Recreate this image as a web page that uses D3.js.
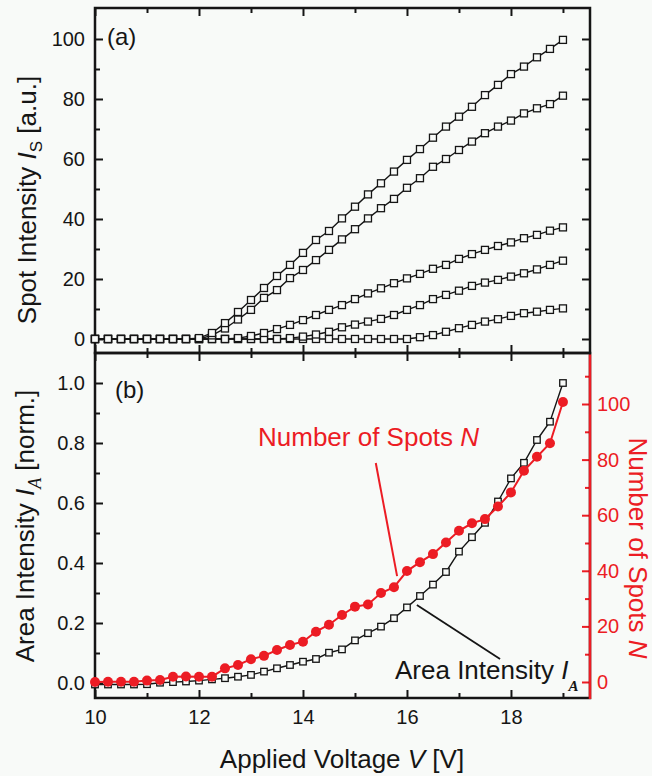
<!DOCTYPE html>
<html>
<head>
<meta charset="utf-8">
<script src="https://cdn.jsdelivr.net/npm/d3@7"></script>
<style>
body { margin: 0; background: #f8faf8; }
svg { display: block; font-family: "Liberation Sans", Arial, sans-serif; }
.tick text { font-family: "Liberation Sans", Arial, sans-serif; }
</style>
</head>
<body>
<script>
// Applied voltage (V), same for every series
var volts = [10, 10.25, 10.5, 10.75, 11, 11.25, 11.5, 11.75, 12, 12.25, 12.5, 12.75,
             13, 13.25, 13.5, 13.75, 14, 14.25, 14.5, 14.75, 15, 15.25, 15.5, 15.75,
             16, 16.25, 16.5, 16.75, 17, 17.25, 17.5, 17.75, 18, 18.25, 18.5, 18.75, 19];

// (a) spot intensities, five spots
var spot1 = [0, 0, 0, 0, 0, 0, 0, 0, 0.3, 2, 5.3, 9, 13, 17, 21, 24.7, 28.7, 33, 36, 40.2,
             44.1, 48.2, 51.9, 55.8, 59.7, 63.3, 67.1, 70.8, 74.1, 77.4, 81.3, 84.7, 88.3, 90.8, 93.9, 96.7, 99.7];
var spot2 = [0, 0, 0, 0, 0, 0, 0, 0, 0, 1.2, 3.5, 6.5, 9.7, 13.7, 16.3, 20.3, 23, 26.3, 29.7, 33.2,
             36.6, 40.2, 43.6, 46.7, 50.4, 53.6, 57.4, 60, 63, 65.8, 68.6, 70.8, 72.8, 75.2, 76.9, 78.3, 81.1];
var spot3 = [0, 0, 0, 0, 0, 0, 0, 0, 0, 0, 0, 0.3, 1, 2, 3.3, 4.7, 6.3, 8, 9.7, 11.3,
             13.3, 15.2, 16.9, 18.6, 20.2, 21.7, 23.4, 24.7, 26.7, 28.3, 29.7, 31, 32.2, 33.6, 34.7, 36.1, 37.2];
var spot4 = [0, 0, 0, 0, 0, 0, 0, 0, 0, 0, 0, 0, 0, 0, 0, 0.3, 0.8, 1.5, 2.4, 3.9,
             4.8, 5.8, 6.7, 8, 9.7, 11.3, 13.3, 14.7, 16.1, 17.7, 18.8, 19.7, 20.8, 21.9, 23.2, 24.7, 26.1];
var spot5 = [0, 0, 0, 0, 0, 0, 0, 0, 0, 0, 0, 0, 0, 0, 0, 0, 0, 0, 0, 0,
             0, 0, 0, 0, 0, 0.6, 1.3, 2.4, 3.6, 4.7, 5.8, 6.6, 7.7, 8.6, 9.1, 9.7, 10.2];
var spots = [spot1, spot2, spot3, spot4, spot5];

// (b) area intensity (normalised) and number of spots
var areaInt = [-0.005, -0.005, -0.005, -0.005, -0.004, 0.001, 0.003, 0.005, 0.008, 0.012, 0.016, 0.021,
               0.027, 0.038, 0.049, 0.06, 0.071, 0.08, 0.101, 0.112, 0.142, 0.166, 0.188, 0.216,
               0.252, 0.29, 0.328, 0.37, 0.438, 0.486, 0.534, 0.605, 0.682, 0.734, 0.81, 0.871, 1.0];
var nSpots = [0, 0.1, 0.1, 0.1, 0.5, 0.7, 1.9, 2.0, 1.9, 1.9, 4.9, 6.1,
              8.2, 9.4, 11.5, 13.3, 14.5, 18.1, 20.6, 24.1, 27.1, 27.9, 32, 34.1,
              39.9, 43.1, 46, 50.2, 54.4, 57.1, 58.6, 63.1, 68.2, 76, 81, 85.9, 100.7];

// tick values
var xMajor = [10, 12, 14, 16, 18], xMinor = [11, 13, 15, 17, 19];
var sMajor = [0, 20, 40, 60, 80, 100], sMinor = [10, 30, 50, 70, 90];
var aMajor = [0, 0.2, 0.4, 0.6, 0.8, 1.0], aMinor = [0.1, 0.3, 0.5, 0.7, 0.9];
var nMajor = [0, 20, 40, 60, 80, 100], nMinor = [10, 30, 50, 70, 90, 110];

var red = "#ec1c24", ink = "#151515", bg = "#f8faf8";

var left = 95, right = 590, top1 = 8, mid = 353, bottom2 = 698;

var x = d3.scaleLinear().domain([10, 19.52]).range([left, right]);
var yS = d3.scaleLinear().domain([-4.67, 110.33]).range([mid, top1]);
var yA = d3.scaleLinear().domain([-0.05, 1.1]).range([bottom2, mid]);
var yN = d3.scaleLinear().domain([-5.76, 118.35]).range([bottom2, mid]);

var svg = d3.select("body").append("svg")
    .attr("width", 652)
    .attr("height", 776);

// inward ticks, major with labels and minor without
function drawAxis(axisFn, scale, tx, ty, major, minor, fmt, pad, color) {
	var g = svg.append("g").attr("transform", "translate(" + tx + "," + ty + ")");
	g.append("g").call(axisFn(scale).tickValues(minor).tickSize(-5).tickFormat(""));
	var m = g.append("g").call(axisFn(scale).tickValues(major).tickSize(-8).tickPadding(pad)
		.tickFormat(fmt ? fmt : ""));
	g.selectAll(".domain").remove();
	g.selectAll("line").attr("stroke", color).attr("stroke-width", 2);
	m.selectAll("text").attr("fill", color).style("font-size", "20px");
	return g;
}

// panel (a) axes
drawAxis(d3.axisLeft, yS, left, 0, sMajor, sMinor, d3.format("d"), 10, ink);
drawAxis(d3.axisRight, yS, right, 0, sMajor, sMinor, null, 0, ink);
drawAxis(d3.axisTop, x, 0, top1, xMajor, xMinor, null, 0, ink);
drawAxis(d3.axisBottom, x, 0, mid, xMajor, xMinor, null, 0, ink);

// panel (b) axes
drawAxis(d3.axisLeft, yA, left, 0, aMajor, aMinor, d3.format(".1f"), 10, ink);
drawAxis(d3.axisTop, x, 0, mid, xMajor, xMinor, null, 0, ink);
drawAxis(d3.axisBottom, x, 0, bottom2, xMajor, xMinor, d3.format("d"), 12, ink);
drawAxis(d3.axisRight, yN, right, 0, nMajor, nMinor, d3.format("d"), 7, red);

// frames
svg.append("rect").attr("x", left).attr("y", top1).attr("width", right - left).attr("height", mid - top1)
	.attr("fill", "none").attr("stroke", ink).attr("stroke-width", 2.5);
svg.append("rect").attr("x", left).attr("y", mid).attr("width", right - left).attr("height", bottom2 - mid)
	.attr("fill", "none").attr("stroke", ink).attr("stroke-width", 2.5);
svg.append("line").attr("x1", right).attr("x2", right).attr("y1", mid + 1.5).attr("y2", bottom2 + 1)
	.attr("stroke", red).attr("stroke-width", 2.5);

// squares + line helper
function squareSeries(vals, yScale, size) {
	var pts = volts.map(function(v, i) { return [v, vals[i]]; });
	var line = d3.line().x(function(d) { return x(d[0]); }).y(function(d) { return yScale(d[1]); });
	svg.append("path").datum(pts).attr("d", line)
		.attr("fill", "none").attr("stroke", ink).attr("stroke-width", 1.4);
	svg.append("g").selectAll("rect").data(pts).enter().append("rect")
		.attr("x", function(d) { return x(d[0]) - size / 2; })
		.attr("y", function(d) { return yScale(d[1]) - size / 2; })
		.attr("width", size).attr("height", size)
		.attr("fill", bg).attr("stroke", ink).attr("stroke-width", 1.3);
}

for (var s = spots.length - 1; s >= 0; s--) {
	squareSeries(spots[s], yS, 7);
}

squareSeries(areaInt, yA, 6.5);

// number of spots
var nPts = volts.map(function(v, i) { return [v, nSpots[i]]; });
svg.append("path").datum(nPts)
	.attr("d", d3.line().x(function(d) { return x(d[0]); }).y(function(d) { return yN(d[1]); }))
	.attr("fill", "none").attr("stroke", red).attr("stroke-width", 2);
svg.append("g").selectAll("circle").data(nPts).enter().append("circle")
	.attr("cx", function(d) { return x(d[0]); })
	.attr("cy", function(d) { return yN(d[1]); })
	.attr("r", 5).attr("fill", red);

// leader lines (data units)
svg.append("line")
	.attr("x1", x(15.40)).attr("y1", yN(78.8)).attr("x2", x(15.81)).attr("y2", yN(38.1))
	.attr("stroke", red).attr("stroke-width", 2);
svg.append("line")
	.attr("x1", x(16.19)).attr("y1", yA(0.26)).attr("x2", x(17.79)).attr("y2", yA(0.08))
	.attr("stroke", ink).attr("stroke-width", 1.8);

// panel labels
svg.append("text").attr("x", 107).attr("y", 45).style("font-size", "24px").attr("fill", ink).text("(a)");
svg.append("text").attr("x", 115).attr("y", 398).style("font-size", "24px").attr("fill", ink).text("(b)");

// annotations
var t1 = svg.append("text").attr("x", 258).attr("y", 446).style("font-size", "26px").attr("fill", red);
t1.append("tspan").text("Number of Spots ");
t1.append("tspan").style("font-style", "italic").text("N");

var t2 = svg.append("text").attr("x", 395).attr("y", 679).style("font-size", "26px").attr("fill", ink);
t2.append("tspan").text("Area Intensity ");
t2.append("tspan").style("font-style", "italic").text("I");
t2.append("tspan").attr("dy", 12).style("font-size", "15px").style("font-weight", "bold")
	.style("font-style", "italic").style("font-family", "'Liberation Serif', serif").text("A");

// axis titles
var xt = svg.append("text").attr("x", 342).attr("y", 768).attr("text-anchor", "middle")
	.style("font-size", "26px").attr("fill", ink);
xt.append("tspan").text("Applied Voltage ");
xt.append("tspan").style("font-style", "italic").text("V");
xt.append("tspan").text(" [V]");

var yt1 = svg.append("text").attr("transform", "translate(36,200) rotate(-90)").attr("text-anchor", "middle")
	.style("font-size", "26px").attr("fill", ink);
yt1.append("tspan").text("Spot Intensity ");
yt1.append("tspan").style("font-style", "italic").text("I");
yt1.append("tspan").attr("dy", 6).style("font-size", "17px").text("S");
yt1.append("tspan").attr("dy", -6).text(" [a.u.]");

var yt2 = svg.append("text").attr("transform", "translate(34,526) rotate(-90)").attr("text-anchor", "middle")
	.style("font-size", "26px").attr("fill", ink);
yt2.append("tspan").text("Area Intensity ");
yt2.append("tspan").style("font-style", "italic").text("I");
yt2.append("tspan").attr("dy", 7).style("font-size", "18px").style("font-style", "italic")
	.style("font-family", "'Liberation Serif', serif").text("A");
yt2.append("tspan").attr("dy", -7).text(" [norm.]");

var yt3 = svg.append("text").attr("transform", "translate(629,548) rotate(90)").attr("text-anchor", "middle")
	.style("font-size", "26px").attr("fill", red);
yt3.append("tspan").text("Number of Spots ");
yt3.append("tspan").style("font-style", "italic").text("N");
</script>
</body>
</html>
